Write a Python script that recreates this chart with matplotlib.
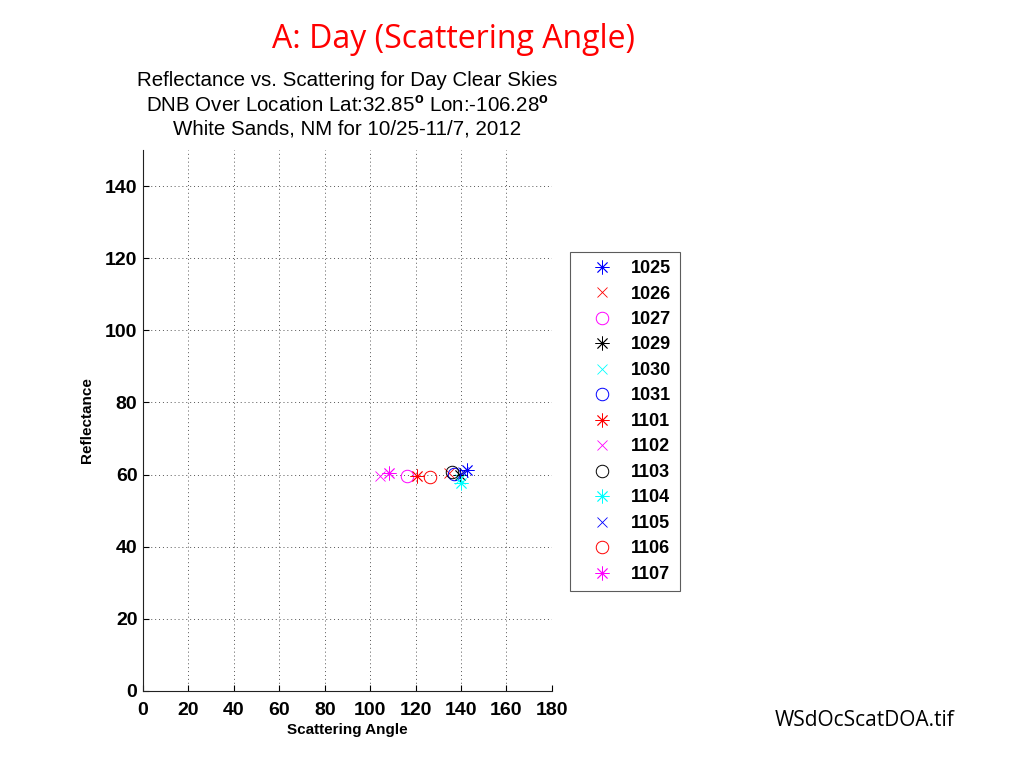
import matplotlib
matplotlib.use("Agg")
import matplotlib.pyplot as plt

plt.rcParams['font.family'] = ['Liberation Sans', 'DejaVu Sans']
plt.rcParams['mathtext.fontset'] = 'custom'
plt.rcParams['mathtext.rm'] = 'Liberation Sans'
plt.rcParams['mathtext.bf'] = 'Liberation Sans:bold'

labels = ['1025', '1026', '1027', '1029', '1030', '1031', '1101', '1102',
          '1103', '1104', '1105', '1106', '1107']
scat_angle = [142.7, 134.5, 116.0, 139.5, 139.5, 137.0, 120.7, 104.3,
              136.0, 139.8, 141.0, 126.3, 108.3]
reflectance = [61.3, 60.3, 59.5, 59.8, 58.7, 60.2, 59.5, 59.6,
               60.6, 57.8, 60.8, 59.4, 60.3]
colors = ['#0000ff', '#ff0000', '#ff00ff', '#000000', '#00ffff', '#0000ff',
          '#ff0000', '#ff00ff', '#000000', '#00ffff', '#0000ff', '#ff0000', '#ff00ff']
markers = ['ast', 'x', 'o', 'ast', 'x', 'o', 'ast', 'x', 'o', 'ast', 'x', 'o', 'ast']

xticks = list(range(0, 181, 20))
yticks = list(range(0, 141, 20))

fig = plt.figure(figsize=(10.24, 7.68), dpi=100)
ax = fig.add_axes([0.1396, 0.1003, 0.3994, 0.7044])

for x, y, c, m, lab in zip(scat_angle, reflectance, colors, markers, labels):
    if m == 'ast':
        ax.plot([x], [y], linestyle='none', marker=(8, 2, 0), markersize=10,
                markeredgecolor=c, markeredgewidth=0.6, label=lab)
    elif m == 'x':
        ax.plot([x], [y], linestyle='none', marker='x', markersize=7,
                markeredgecolor=c, markeredgewidth=0.6, label=lab)
    else:
        ax.plot([x], [y], linestyle='none', marker='o', markersize=9,
                markerfacecolor='none', markeredgecolor=c, markeredgewidth=0.7, label=lab)

ax.set_xlim(0, 180)
ax.set_ylim(0, 150)
ax.set_xticks(xticks)
ax.set_yticks(yticks)
ax.grid(True, linestyle=(0, (1, 3)), color='#555555', linewidth=0.7)
ax.spines['top'].set_visible(False)
ax.spines['right'].set_visible(False)
ax.spines['left'].set_color('#222222')
ax.spines['bottom'].set_color('#222222')
ax.tick_params(direction='in', length=4, width=0.8, labelsize=14)
ax.tick_params(axis='x', pad=8)
ax.tick_params(axis='y', pad=4)
for t in ax.get_xticklabels() + ax.get_yticklabels():
    t.set_fontweight('bold')

ax.set_xlabel('Scattering Angle', fontsize=11, fontweight='bold', labelpad=3)
ax.set_ylabel('Reflectance', fontsize=11, fontweight='bold', labelpad=8)

ax.set_title('Reflectance vs. Scattering for Day Clear Skies\n'
             'DNB Over Location Lat:32.85$^{\\mathbf{o}}$ Lon:-106.28$^{\\mathbf{o}}$\n'
             'White Sands, NM for 10/25-11/7, 2012',
             fontsize=14.8, linespacing=1.27, pad=11)

leg = ax.legend(loc='upper left', bbox_to_anchor=(0.5566, 0.672),
                bbox_transform=fig.transFigure, frameon=True, fancybox=False,
                edgecolor='#333333', prop={'size': 13, 'weight': 'bold'},
                labelspacing=0.47, handletextpad=0.35, borderpad=0.45,
                handlelength=2.6, borderaxespad=0)
leg.get_frame().set_linewidth(0.8)

fig.text(0.4424, 0.948, 'A: Day (Scattering Angle)', color='#ff0000',
         fontsize=23, family=['Open Sans', 'DejaVu Sans'], ha='center', va='center')
fig.text(0.8447, 0.0625, 'WSdOcScatDOA.tif', color='black',
         fontsize=15, family=['Open Sans', 'DejaVu Sans'], ha='center', va='center')

fig.savefig('out.png', dpi=100)
